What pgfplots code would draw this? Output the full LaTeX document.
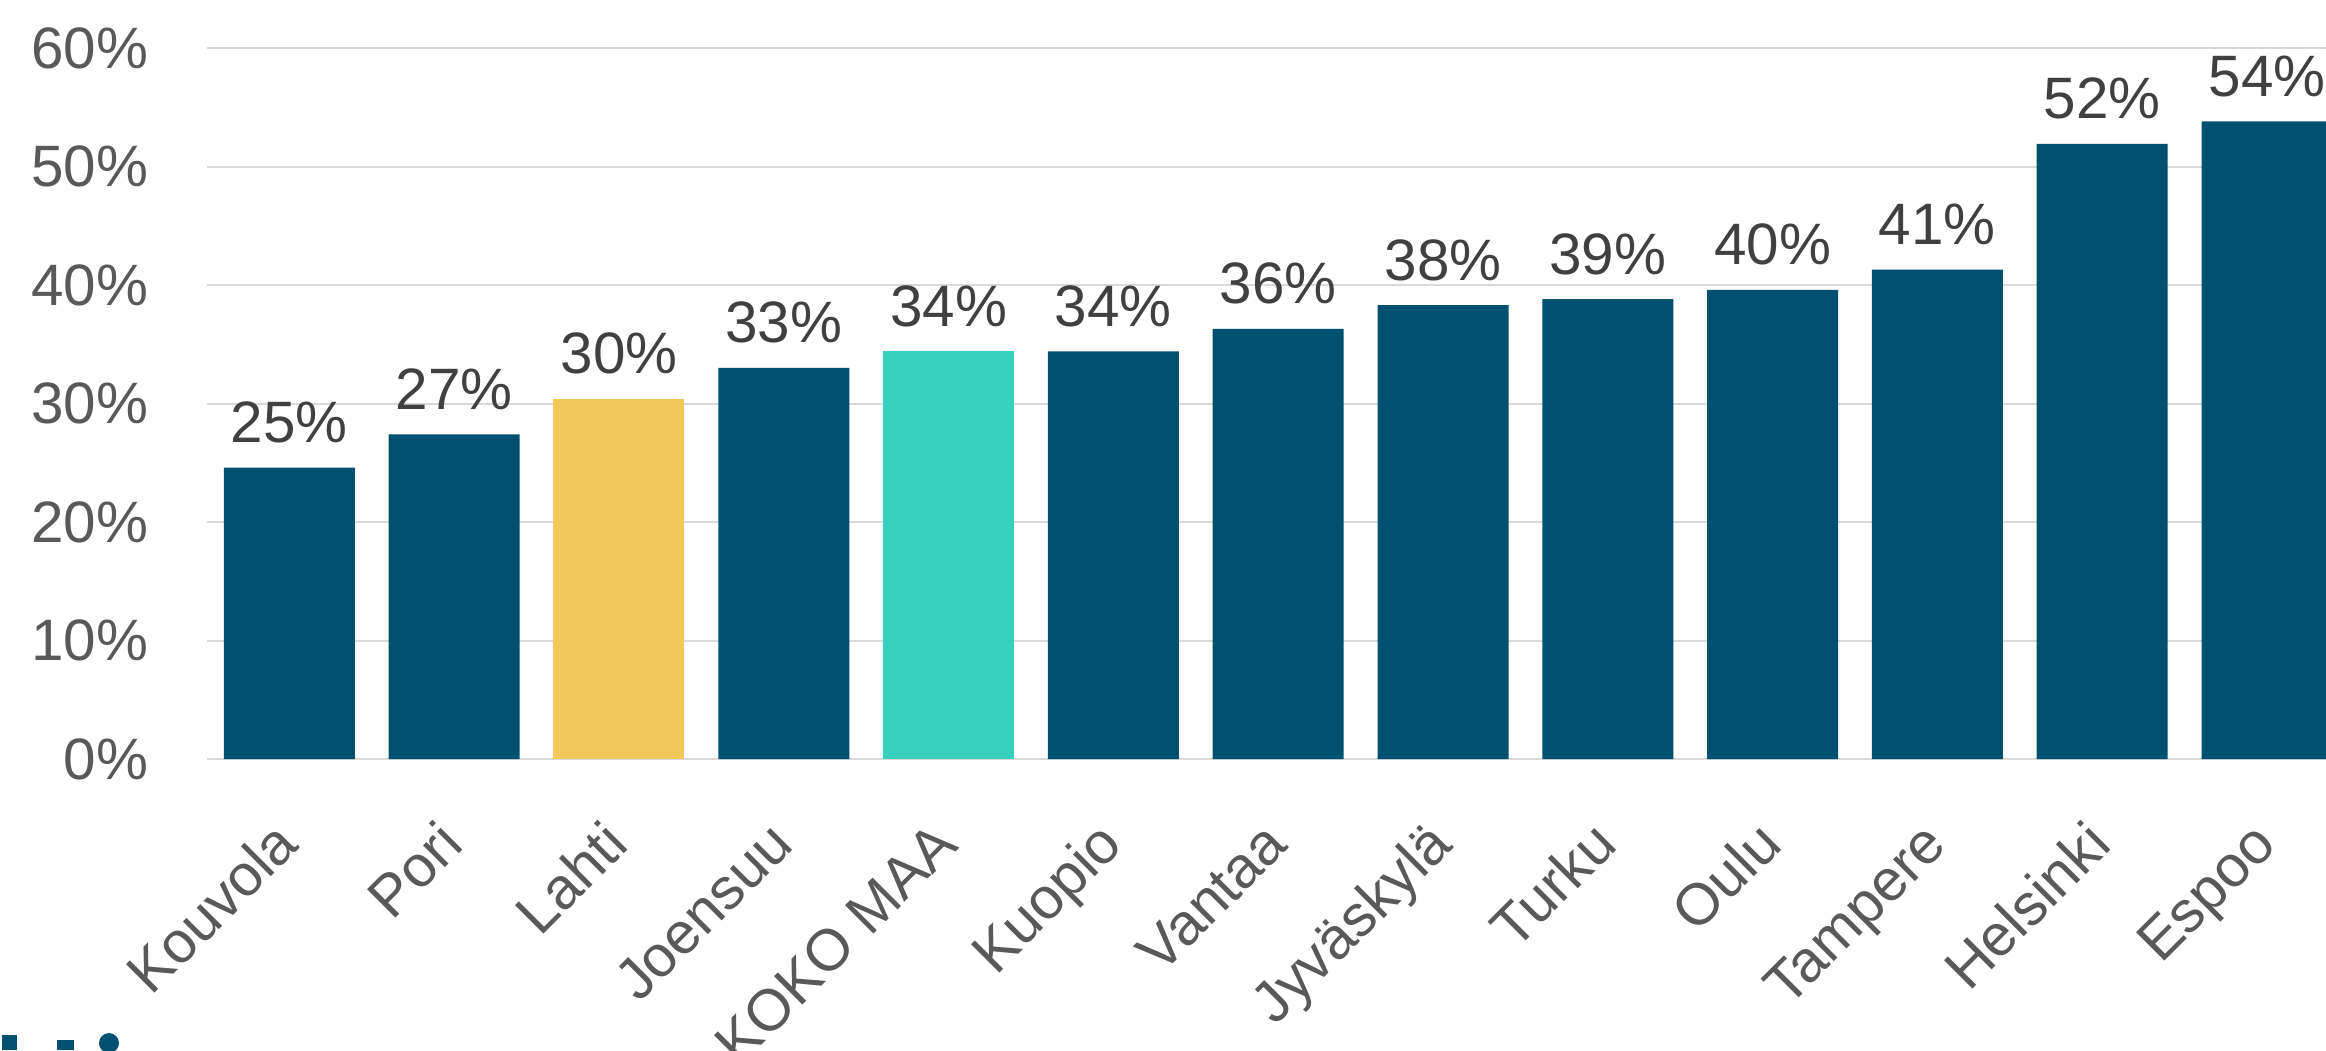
\documentclass[border=0pt]{standalone}
\usepackage{pgfplots}
\pgfplotsset{compat=1.18}
\usepackage{fontspec}
\setmainfont{Liberation Sans}

\definecolor{barblue}{HTML}{00506F}
\definecolor{baryellow}{HTML}{F2C85C}
\definecolor{barteal}{HTML}{37D0BC}
\definecolor{gridgray}{HTML}{D9D9D9}
\definecolor{ticktext}{HTML}{595959}
\definecolor{labeltext}{HTML}{404040}

% share of ... by city, positions 0..12
% x  value  label
\begin{document}
\begin{tikzpicture}
\begin{axis}[
    scale only axis,
    width=535.6pt,
    height=177.75pt,
    xmin=-0.5, xmax=12.5,
    ymin=0, ymax=60,
    ybar,
    bar width=32.75pt,
    axis line style={draw=none},
    major tick length=0pt,
    ymajorgrids=true,
    grid style={gridgray, line width=0.5pt},
    ytick={0,10,20,30,40,50,60},
    yticklabels={0\%,10\%,20\%,30\%,40\%,50\%,60\%},
    yticklabel style={font=\fontsize{14.6}{17}\selectfont, text=ticktext,
        anchor=east, inner sep=0pt, xshift=-14.5pt},
    xtick={0,...,12},
    xticklabels={Kouvola,Pori,Lahti,Joensuu,KOKO MAA,Kuopio,Vantaa,Jyväskylä,Turku,Oulu,Tampere,Helsinki,Espoo},
    xticklabel style={font=\fontsize{14.6}{17}\selectfont, text=ticktext,
        inner sep=0pt, xshift=3pt, yshift=-22pt, rotate=45, anchor=base east},
    point meta=explicit symbolic,
    nodes near coords={\pgfplotspointmeta\%},
    every node near coord/.append style={font=\fontsize{14.6}{17}\selectfont,
        text=labeltext, anchor=base, inner sep=0pt, yshift=6.25pt},
]
\addplot[fill=barblue, draw=none, bar shift=0pt] table[meta=L] {
X Y L
0 24.6 25
1 27.4 27
3 33.0 33
5 34.4 34
6 36.3 36
7 38.3 38
8 38.8 39
9 39.6 40
10 41.3 41
11 51.9 52
12 53.8 54
};
\addplot[fill=baryellow, draw=none, bar shift=0pt] table[meta=L] {
X Y L
2 30.4 30
};
\addplot[fill=barteal, draw=none, bar shift=0pt] table[meta=L] {
X Y L
4 34.4 34
};
\coordinate (bl) at (axis cs:-1.756,-24.56);
\coordinate (tr) at (axis cs:12.358,64.05);
\end{axis}
% logo fragment at the lower edge
\fill[barblue, shift={(bl)}] (0.5pt,0pt) rectangle (4.25pt,3.75pt);
\fill[barblue, shift={(bl)}] (14.25pt,0pt) rectangle (18.5pt,2.5pt);
\fill[barblue, shift={(bl)}] (27.25pt,1.75pt) circle (2.5pt);
\pgfresetboundingbox
\path[use as bounding box] (bl) rectangle (tr);
\end{tikzpicture}
\end{document}
